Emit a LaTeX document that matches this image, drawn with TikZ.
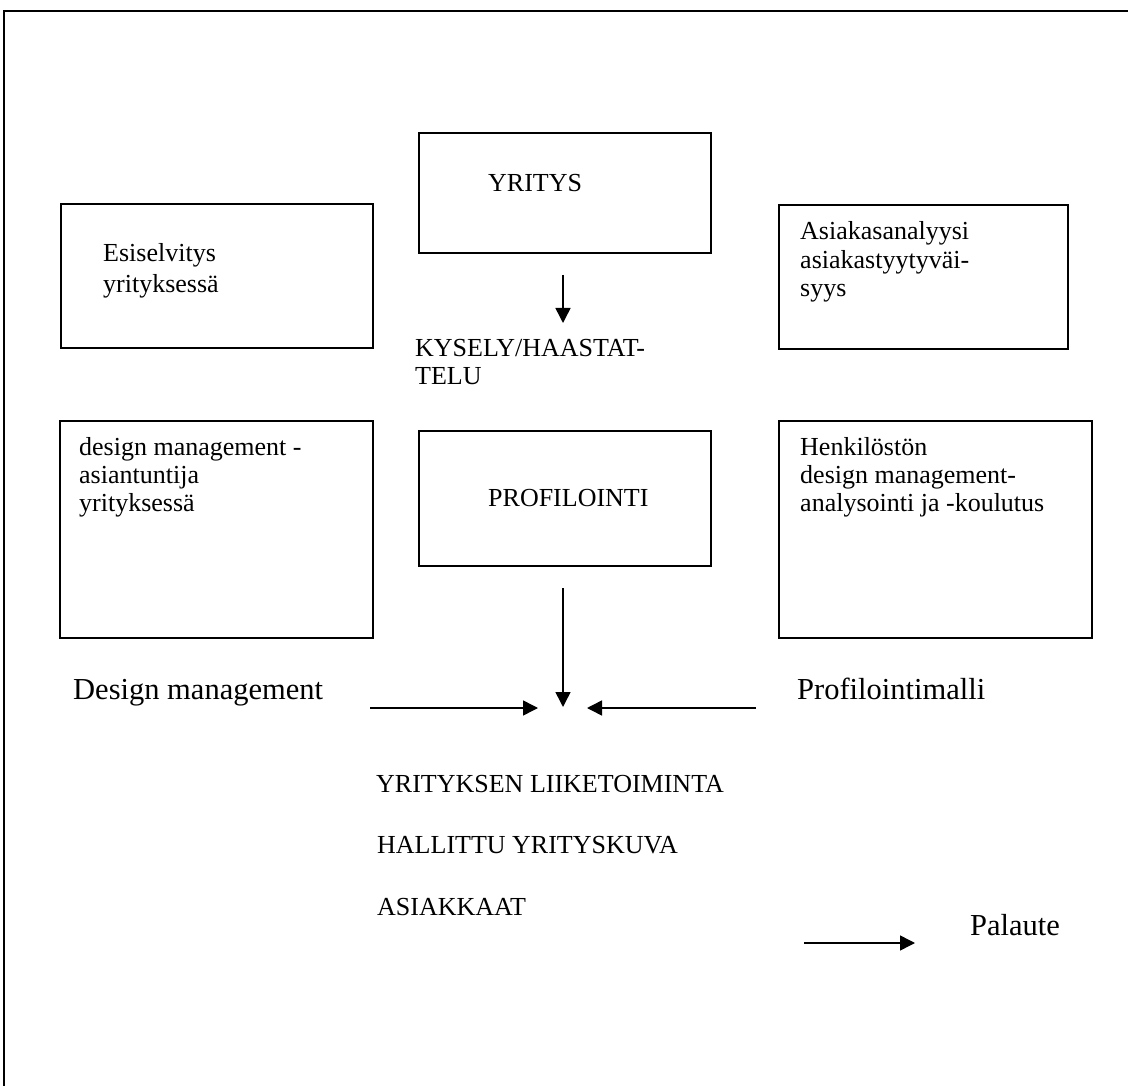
\documentclass[tikz,border=0pt]{standalone}
\usepackage{fontspec}
\setmainfont{Liberation Serif}
\usetikzlibrary{arrows.meta}
\begin{document}
\begin{tikzpicture}[x=1pt,y=-1pt,
  box/.style={draw=black,line width=1.8pt,rectangle,inner sep=0pt,anchor=north west},
  txt/.style={anchor=base west,inner sep=0pt,font=\fontsize{26}{29}\selectfont},
  big/.style={anchor=base west,inner sep=0pt,font=\fontsize{30.5}{35}\selectfont},
  arr/.style={line width=1.5pt,-{Triangle[length=15pt,width=15pt]}}]
\useasboundingbox (0,0) rectangle (1128,1086);
\fill[white] (0,0) rectangle (1128,1086);
\draw[line width=2pt] (4,1086) -- (4,11) -- (1128,11);
% boxes
\node[box,minimum width=312pt,minimum height=144pt] (esi) at (60,203) {};
\node[box,minimum width=292pt,minimum height=120pt] (yri) at (418,132) {};
\node[box,minimum width=289pt,minimum height=144pt] (asi) at (778,204) {};
\node[box,minimum width=313pt,minimum height=217pt] (dm) at (59,420) {};
\node[box,minimum width=292pt,minimum height=135pt] (pro) at (418,430) {};
\node[box,minimum width=313pt,minimum height=217pt] (hen) at (778,420) {};
% box texts
\node[txt] (esi1) at (103,262) {Esiselvitys};
\node[txt] (esi2) at (103,293) {yrityksessä};
\node[txt] (yri1) at (488,192) {YRITYS};
\node[txt] (asi1) at (800,240) {Asiakasanalyysi};
\node[txt] (asi2) at (800,269) {asiakastyytyväi-};
\node[txt] (asi3) at (800,297) {syys};
\node[txt] (dm1) at (79,455) {design management -};
\node[txt] (dm2) at (79,483) {asiantuntija};
\node[txt] (dm3) at (79,511) {yrityksessä};
\node[txt] (hen1) at (800,455) {Henkilöstön};
\node[txt] (hen2) at (800,483) {design management-};
\node[txt] (hen3) at (800,511) {analysointi ja -koulutus};
\node[txt] (pro1) at (488,506) {PROFILOINTI};
\node[txt] (kys1) at (415,356) {KYSELY/HAASTAT-};
\node[txt] (kys2) at (415,384) {TELU};
% free labels
\node[big] (dml) at (73,699) {Design management};
\node[big] (pml) at (797,699) {Profilointimalli};
\node[txt] (l1) at (376,792) {YRITYKSEN LIIKETOIMINTA};
\node[txt] (l2) at (377,853) {HALLITTU YRITYSKUVA};
\node[txt] (l3) at (377,915) {ASIAKKAAT};
\node[big] (pal) at (970,935) {Palaute};
% arrows
\coordinate (a1s) at (563,275); \coordinate (a1e) at (563,323);
\coordinate (a2s) at (563,588); \coordinate (a2e) at (563,707);
\coordinate (a3s) at (370,708); \coordinate (a3e) at (538,708);
\coordinate (a4s) at (756,708); \coordinate (a4e) at (587,708);
\coordinate (a5s) at (804,943); \coordinate (a5e) at (915,943);
\draw[arr] (a1s) -- (a1e);
\draw[arr] (a2s) -- (a2e);
\draw[arr] (a3s) -- (a3e);
\draw[arr] (a4s) -- (a4e);
\draw[arr] (a5s) -- (a5e);
\end{tikzpicture}
\end{document}
